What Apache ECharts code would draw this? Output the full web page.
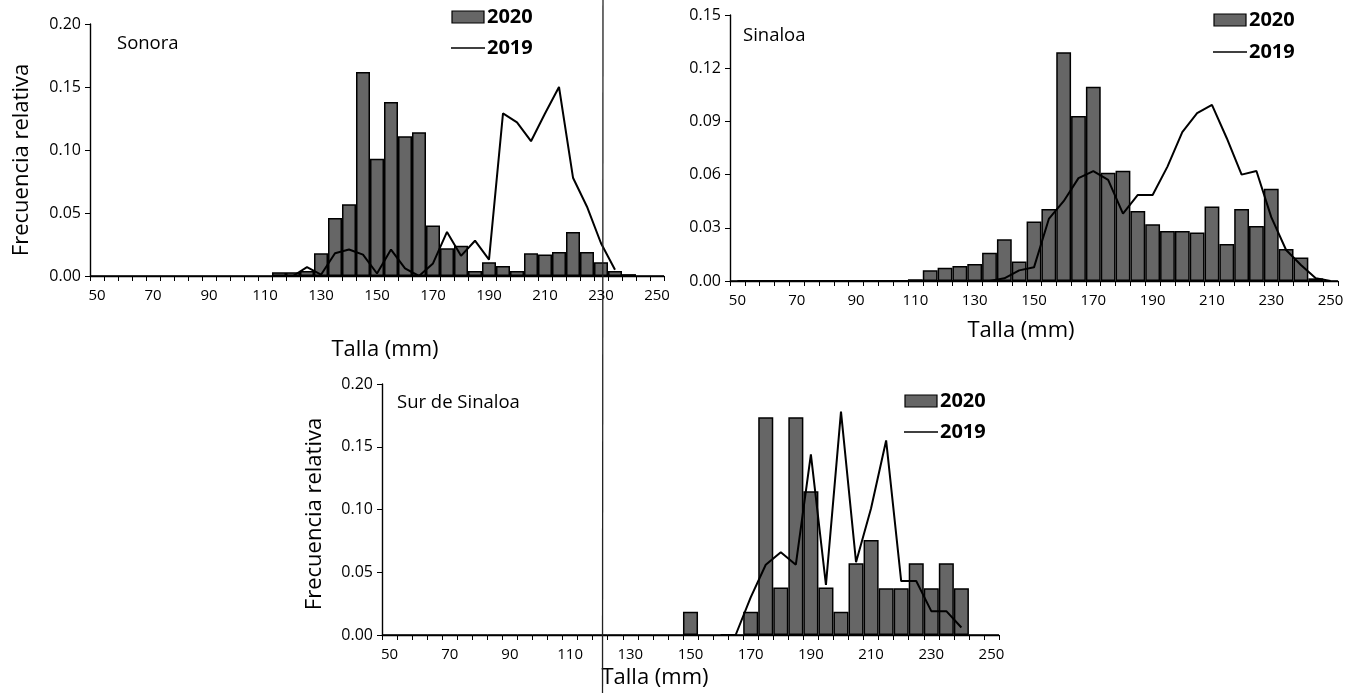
<!DOCTYPE html>
<html>
<head>
<meta charset="utf-8">
<script src="https://cdn.jsdelivr.net/npm/echarts@6/dist/echarts.min.js"></script>
<style>html,body{margin:0;padding:0;background:#fff}#c{width:1357px;height:693px}</style>
</head>
<body>
<div id="c"></div>
<script>
const categories = [50,55,60,65,70,75,80,85,90,95,100,105,110,115,120,125,130,135,140,145,150,155,160,165,170,175,180,185,190,195,200,205,210,215,220,225,230,235,240,245,250];

const sonora2020 = [0,0,0,0,0,0,0,0,0,0,0,0,0,
  0.003,0.003,0.004,0.018,0.046,0.057,0.162,0.093,0.138,0.111,0.114,0.040,0.022,0.024,0.004,0.011,0.008,0.004,0.018,0.017,0.019,0.035,0.019,0.011,0.004,0.0015,
  0,0];
const sonora2019 = [null,null,null,null,null,null,null,null,null,null,null,null,null,null,
  0,0.007,0.001,0.018,0.021,0.017,0.002,0.021,0.006,0.0,0.010,0.035,0.016,0.028,0.013,0.129,0.122,0.107,0.129,0.150,0.078,0.055,0.026,0.005,
  null,null,null];

const sinaloa2020 = [0,0,0,0,0,0,0,0,0,0,0,0,
  0.001,0.006,0.0075,0.0085,0.0096,0.016,0.0235,0.011,0.0335,0.0406,0.129,0.093,0.1096,0.061,0.0622,0.0395,0.032,0.0282,0.0282,0.0273,0.042,0.0209,0.0406,0.031,0.052,0.018,0.0132,0.0015,0];
const sinaloa2019 = [0,0,0,0,0,0,0,0,0,0,0,0,0,0,0,0,0,0,
  0.0015,0.006,0.0077,0.035,0.045,0.058,0.062,0.057,0.038,0.0485,0.0485,0.0645,0.084,0.0946,0.0993,0.0805,0.060,0.062,0.036,0.0175,0.009,0.0015,0];

const sur2020 = [0,0,0,0,0,0,0,0,0,0,0,0,0,0,0,0,0,0,0,0,
  0.0185,0,0,0,0.0185,0.1735,0.0378,0.1735,0.1146,0.0378,0.0185,0.0571,0.0757,0.0373,0.0373,0.0571,0.0373,0.0571,0.0373,0,0];
const sur2019 = [null,null,null,null,null,null,null,null,null,null,null,null,null,null,null,null,null,null,null,null,null,null,
  0,0,0.030,0.056,0.066,0.056,0.144,0.040,0.178,0.058,0.101,0.155,0.043,0.043,0.019,0.019,0.006,
  null,null];

const yTicks1 = {max:0.20, interval:0.05};
const yTicks2 = {max:0.15, interval:0.03};
const yTicks3 = {max:0.20, interval:0.05};

const FONT = 'Open Sans';
const chart = echarts.init(document.getElementById('c'), null, {renderer:'canvas'});

function xAx(i){
  return {
    type:'category', gridIndex:i, data:categories, boundaryGap:true,
    axisLine:{show:true, lineStyle:{color:'#000', width:1.4}},
    axisTick:{show:true, interval:0, length:5, lineStyle:{color:'#000', width:1}},
    axisLabel:{interval:3, fontSize:15, color:'#000', margin:12, fontFamily:FONT},
    splitLine:{show:false}
  };
}
function yAx(i, t){
  return {
    type:'value', gridIndex:i, min:0, max:t.max, interval:t.interval,
    axisLine:{show:true, lineStyle:{color:'#000', width:1.4}},
    axisTick:{show:true, length:5, lineStyle:{color:'#000', width:1}},
    axisLabel:{fontSize:16, color:'#000', margin:9, fontFamily:FONT, formatter:v=>v.toFixed(2)},
    splitLine:{show:false}
  };
}
const barStyle = {color:'#666666', borderColor:'#000', borderWidth:1.5};
function barS(i, d){
  return {type:'bar', name:'2020', xAxisIndex:i, yAxisIndex:i, data:d, barCategoryGap:'0%', itemStyle:barStyle, z:2};
}
function lineS(i, d){
  return {type:'line', name:'2019', xAxisIndex:i, yAxisIndex:i, data:d, symbol:'none', connectNulls:false,
    lineStyle:{color:'#000', width:2}, z:3};
}
function txt(x, y, s, opt){
  return Object.assign({type:'text', x:x, y:y, style:Object.assign({text:s, fill:'#000', font:'18.5px "'+FONT+'"', textVerticalAlign:'middle'}, opt||{})});
}
function legendG(x, yRect, yLine){
  return [
    {type:'rect', shape:{x:x, y:yRect-6, width:32, height:12}, style:{fill:'#666666', stroke:'#000', lineWidth:1.2}},
    txt(x+35, yRect, '2020', {font:'bold 20px "'+FONT+'"'}),
    {type:'line', shape:{x1:x-1, y1:yLine, x2:x+33, y2:yLine}, style:{stroke:'#000', lineWidth:1.5}},
    txt(x+35, yLine, '2019', {font:'bold 20px "'+FONT+'"'})
  ];
}
function rotTxt(x, y, s){
  return {type:'text', x:x, y:y, rotation:Math.PI/2,
    style:{text:s, fill:'#000', font:'22px "'+FONT+'"', textAlign:'center', textVerticalAlign:'middle'}};
}

const option = {
  animation:false,
  backgroundColor:'#fff',
  grid:[
    {left:90, top:24, width:574, height:252},
    {left:730, top:15, width:608, height:266},
    {left:382, top:384, width:617, height:251}
  ],
  xAxis:[xAx(0), xAx(1), xAx(2)],
  yAxis:[yAx(0, yTicks1), yAx(1, yTicks2), yAx(2, yTicks3)],
  series:[barS(0, sonora2020), lineS(0, sonora2019), barS(1, sinaloa2020), lineS(1, sinaloa2019), barS(2, sur2020), lineS(2, sur2019)],
  graphic:[
    {type:'line', shape:{x1:603, y1:0, x2:602.5, y2:693}, style:{stroke:'#222', lineWidth:1.3}, z:10},
    txt(117, 44, 'Sonora'),
    txt(743, 36, 'Sinaloa'),
    txt(397, 403, 'Sur de Sinaloa'),
    rotTxt(22, 160, 'Frecuencia relativa'),
    rotTxt(315, 514, 'Frecuencia relativa'),
    txt(385, 350, 'Talla (mm)', {font:'22px "'+FONT+'"', textAlign:'center'}),
    txt(1021, 331, 'Talla (mm)', {font:'22px "'+FONT+'"', textAlign:'center'}),
    txt(655, 678, 'Talla (mm)', {font:'22px "'+FONT+'"', textAlign:'center'})
  ].concat(legendG(452, 17, 48), legendG(1214, 20, 52), legendG(905, 401, 432))
};
chart.setOption(option);
</script>
</body>
</html>
